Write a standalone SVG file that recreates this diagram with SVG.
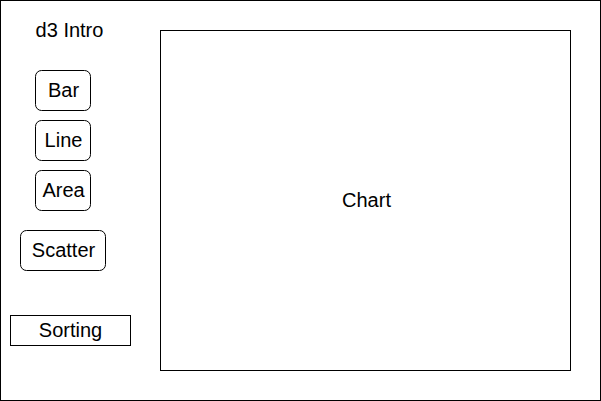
<svg xmlns="http://www.w3.org/2000/svg" width="601" height="401" viewBox="0 0 601 401">
<style>
.box{fill:#fff;stroke:#000;stroke-width:1}
.t{font-family:"Liberation Sans",Arial,Helvetica,sans-serif;font-size:20px;fill:#000;text-anchor:middle;dominant-baseline:central}
</style>
<rect x="0.5" y="0.5" width="600" height="400" class="box"/>
<g id="title"><text x="69.5" y="29.5" class="t">d3 Intro</text></g>
<g id="bar"><rect x="35.5" y="70.5" width="55" height="40" rx="6" class="box"/><text x="63.5" y="89.5" class="t">Bar</text></g>
<g id="line"><rect x="35.5" y="120.5" width="55" height="40" rx="6" class="box"/><text x="63.5" y="139.5" class="t">Line</text></g>
<g id="area"><rect x="35.5" y="170.5" width="55" height="40" rx="6" class="box"/><text x="63.5" y="189.5" class="t">Area</text></g>
<g id="scatter"><rect x="20.5" y="230.5" width="85" height="40" rx="6" class="box"/><text x="63.5" y="249.5" class="t">Scatter</text></g>
<g id="sorting"><rect x="10.5" y="315.5" width="120" height="30" class="box"/><text x="70.5" y="329.5" class="t">Sorting</text></g>
<g id="chart"><rect x="160.5" y="30.5" width="410" height="340" class="box"/><text x="366.5" y="199.5" class="t">Chart</text></g>
<g id="connectors"></g>
</svg>
